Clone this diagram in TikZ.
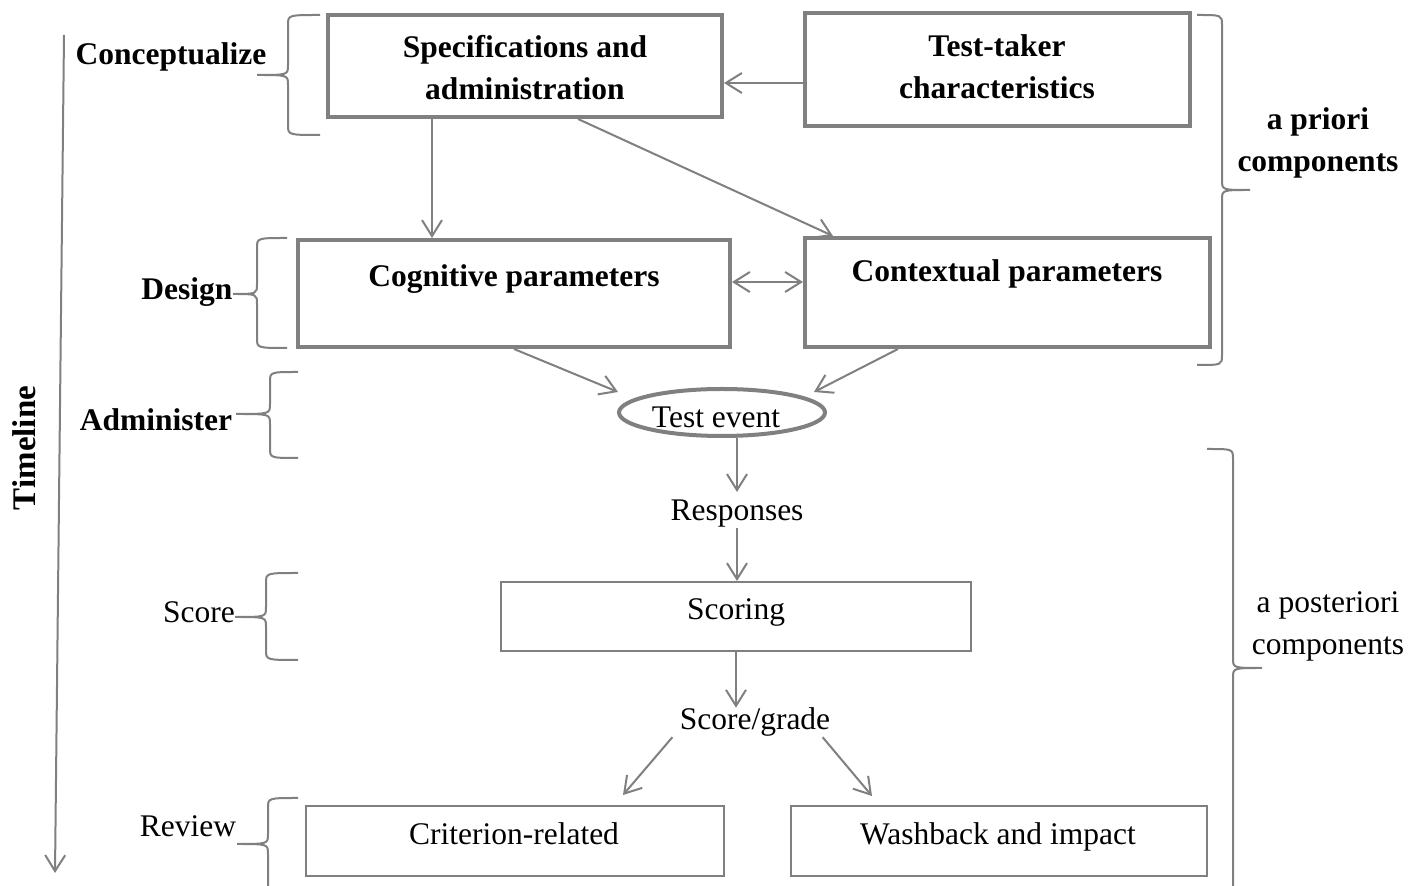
\documentclass[tikz,border=0pt]{standalone}
\usepackage{fontspec}
\setmainfont{Liberation Serif}
\usetikzlibrary{arrows.meta,calc,shapes.geometric}
\definecolor{linegray}{RGB}{128,128,128}
% curly brace: open-end x, spine x, tip x, top y, tip y, bottom y
\newcommand\curlybrace[6]{%
  \draw[bracel] (#1,#4) .. controls (#2,#4) .. (#2,{#4+10})
    -- (#2,{#5-10}) .. controls (#2,#5) .. (#3,#5)
    .. controls (#2,#5) .. (#2,{#5+10})
    -- (#2,{#6-10}) .. controls (#2,#6) .. (#1,#6);}
\begin{document}
\begin{tikzpicture}[x=0.5pt,y=-0.5pt,
  txt/.style={font=\fontsize{15.75}{21}\selectfont, inner sep=0pt},
  btxt/.style={font=\fontsize{15.75}{21}\selectfont\bfseries, inner sep=0pt},
  thickbox/.style={draw=linegray, line width=2pt, inner sep=0pt},
  thinbox/.style={draw=linegray, line width=1pt, inner sep=0pt},
  arr/.style={draw=linegray, line width=1pt, -{Straight Barb[length=8pt,width=10pt]}},
  darr/.style={draw=linegray, line width=1pt, {Straight Barb[length=8pt,width=10pt]}-{Straight Barb[length=8pt,width=10pt]}},
  bracel/.style={draw=linegray, line width=1pt}]
\clip (0,0) rectangle (1421,886);
\fill[white] (0,0) rectangle (1421,886);

% timeline
\coordinate (tl0) at (64,35);
\coordinate (tl1) at (55,873);
\draw[arr] (tl0) -- (tl1);
\node[btxt, rotate=90, font=\fontsize{16.5}{21}\selectfont\bfseries] (timeline) at (24,448) {Timeline};

% stage labels
\node[btxt, anchor=base] (lconc) at (171,65) {Conceptualize};
\node[btxt, anchor=base] (ldes) at (187,300) {Design};
\node[btxt, anchor=base] (ladm) at (156,431) {Administer};
\node[txt, anchor=base] (lsco) at (199,623) {Score};
\node[txt, anchor=base] (lrev) at (188,837) {Review};

% stage braces
\curlybrace{320}{288}{257}{15}{75}{135}
\curlybrace{287}{257}{233}{238}{294}{348}
\curlybrace{298}{270}{236}{372}{414}{458}
\curlybrace{298}{266}{235}{573}{617}{660}
\curlybrace{298}{268}{237}{798}{844}{910}

% component braces
\curlybrace{1197}{1222}{1250}{15}{190}{365}
\curlybrace{1207}{1233}{1262}{449}{668}{910}
\node[btxt, align=center] (apri) at (1318,143) {a priori\\components};
\node[txt, align=center] (apost) at (1328,626) {a posteriori\\components};

% a priori boxes
\node[thickbox, minimum width=197pt, minimum height=51pt] (spec) at (525,66) {};
\node[btxt, align=center] (spect) at (525,68) {Specifications and\\administration};
\node[thickbox, minimum width=192.5pt, minimum height=56.5pt] (tt) at (997.5,69.5) {};
\node[btxt, align=center] (ttt) at (997,67) {Test-taker\\characteristics};
\node[thickbox, minimum width=216pt, minimum height=53.5pt] (cog) at (514,293.5) {};
\node[btxt, anchor=base] (cogt) at (514,287) {Cognitive parameters};
\node[thickbox, minimum width=202.5pt, minimum height=54.5pt] (ctx) at (1007.5,292.5) {};
\node[btxt, anchor=base] (ctxt) at (1007,282) {Contextual parameters};

% test event
\node[ellipse, draw=linegray, line width=2pt, inner sep=0pt,
      minimum width=103pt, minimum height=23.5pt] (te) at (722,412.5) {};
\node[txt, anchor=base] (tet) at (716,428) {Test event};

% a posteriori chain
\node[txt, anchor=base] (resp) at (737,521) {Responses};
\node[thinbox, minimum width=235pt, minimum height=34.5pt] (sc) at (736,616.5) {};
\node[txt, anchor=base] (sct) at (736,620) {Scoring};
\node[txt, anchor=base] (sg) at (755,730) {Score/grade};
\node[thinbox, minimum width=209pt, minimum height=35pt] (crit) at (515,841) {};
\node[txt, anchor=base] (critt) at (514,845) {Criterion-related};
\node[thinbox, minimum width=208pt, minimum height=35pt] (wash) at (999,841) {};
\node[txt, anchor=base] (washt) at (998,845) {Washback and impact};

% connectors
\draw[arr] ($(tt.west)+(0,13.5)$) coordinate (a1) -- (a1 -| spec.east);
\draw[arr] ($(spec.south west)+(106,0)$) -- ($(cog.north west)+(136,0)$);
\draw[arr] ($(spec.south west)+(252,0)$) -- ($(ctx.north west)+(30,0)$);
\draw[darr] ($(cog.east)+(0,-11.5)$) -- ($(ctx.west)+(0,-10.5)$);
\draw[arr] ($(cog.south west)+(218,0)$) -- ($(te.west)+(1,-20.5)$);
\draw[arr] ($(ctx.south west)+(95,0)$) -- ($(te.east)+(-13,-20.5)$);
\draw[arr, shorten >=4pt] (te.south -| resp.north) -- (resp.north);
\draw[arr] (resp.south) -- (resp.south |- sc.north);
\draw[arr] (sc.south) -- (sc.south |- sg.north);
\draw[arr] ($(sg.south west)+(-7,0)$) -- ($(crit.north east)+(-102,-10)$);
\draw[arr] ($(sg.south east)+(-8,0)$) -- ($(wash.north west)+(82,-9)$);
\end{tikzpicture}
\end{document}
